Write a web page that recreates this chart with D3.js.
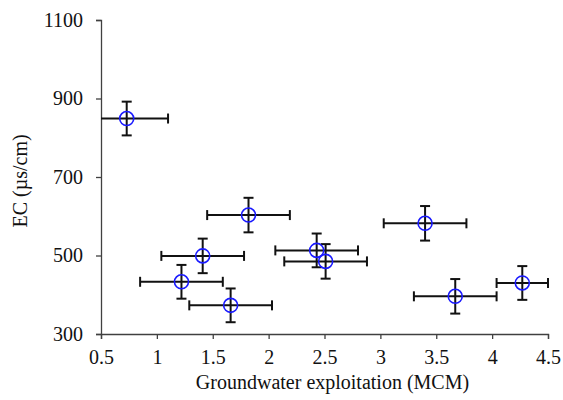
<!DOCTYPE html>
<meta charset="utf-8">
<style>
  body { margin: 0; background: #fff; }
  .axis text { font-family: "Liberation Serif", "Times New Roman", serif; font-size: 20px; fill: #111; }
  .axis path, .axis line { stroke: #404040; stroke-width: 1.3; }
  .label { font-family: "Liberation Serif", "Times New Roman", serif; font-size: 20px; fill: #111; }
</style>
<svg width="563" height="400"></svg>
<script src="https://d3js.org/d3.v7.min.js"></script>
<script>
// data
var exploitation = [0.73, 1.22, 1.41, 1.66, 1.82, 2.43, 2.51, 3.40, 3.67, 4.27];
var ec = [849, 433, 499, 373, 603, 513, 485, 582, 396, 430];
var exploitationErr = [0.37, 0.37, 0.37, 0.37, 0.37, 0.37, 0.37, 0.37, 0.37, 0.23];
var ecErr = [43, 43, 44, 43, 44, 43, 44, 44, 44, 43];
var xTicks = [0.5, 1, 1.5, 2, 2.5, 3, 3.5, 4, 4.5];
var yTicks = [300, 500, 700, 900, 1100];

var svg = d3.select("svg");
var margin = {left: 101, right: 15, top: 20, bottom: 66};
var width = 563, height = 400;

var x = d3.scaleLinear().domain([0.5, 4.5]).range([margin.left, width - margin.right]);
var y = d3.scaleLinear().domain([300, 1100]).range([height - margin.bottom, margin.top]);

// axes
svg.append("g")
    .attr("class", "axis")
    .attr("transform", "translate(0," + y(300) + ")")
    .call(d3.axisBottom(x).tickValues(xTicks).tickSizeOuter(0).tickSize(5).tickPadding(11)
      .tickFormat(d3.format("")));

svg.append("g")
    .attr("class", "axis")
    .attr("transform", "translate(" + x(0.5) + ",0)")
    .call(d3.axisLeft(y).tickValues(yTicks).tickSizeOuter(0).tickSize(5).tickPadding(13)
      .tickFormat(d3.format("d")));

svg.selectAll(".axis").attr("font-family", null).attr("font-size", null);

// error bars
var pts = exploitation.map(function (v, i) {
  return {x: v, y: ec[i], xe: exploitationErr[i], ye: ecErr[i]};
});
var cap = 5;
var bars = svg.append("g")
    .attr("stroke", "#111")
    .attr("stroke-width", 2)
    .attr("fill", "none");

pts.forEach(function (d) {
  var x0 = Math.max(x(d.x - d.xe), x(0.5)), x1 = x(d.x + d.xe);
  bars.append("line").attr("x1", x0).attr("x2", x1).attr("y1", y(d.y)).attr("y2", y(d.y));
  if (d.x - d.xe >= 0.5)
    bars.append("line").attr("x1", x0).attr("x2", x0).attr("y1", y(d.y) - cap).attr("y2", y(d.y) + cap);
  bars.append("line").attr("x1", x1).attr("x2", x1).attr("y1", y(d.y) - cap).attr("y2", y(d.y) + cap);
  var y0 = y(d.y - d.ye), y1 = y(d.y + d.ye);
  bars.append("line").attr("x1", x(d.x)).attr("x2", x(d.x)).attr("y1", y0).attr("y2", y1);
  bars.append("line").attr("x1", x(d.x) - cap).attr("x2", x(d.x) + cap).attr("y1", y0).attr("y2", y0);
  bars.append("line").attr("x1", x(d.x) - cap).attr("x2", x(d.x) + cap).attr("y1", y1).attr("y2", y1);
});

// markers
svg.append("g")
  .selectAll("circle")
  .data(pts)
  .enter().append("circle")
    .attr("cx", function (d) { return x(d.x); })
    .attr("cy", function (d) { return y(d.y); })
    .attr("r", 7)
    .attr("fill", "none")
    .attr("stroke", "#1a1aff")
    .attr("stroke-width", 1.6);

// axis titles
svg.append("text")
    .attr("class", "label")
    .attr("x", x(2.5) + 8)
    .attr("y", 389)
    .attr("text-anchor", "middle")
    .text("Groundwater exploitation (MCM)");

svg.append("text")
    .attr("class", "label")
    .attr("transform", "translate(27," + y(690) + ") rotate(-90)")
    .attr("text-anchor", "middle")
    .text("EC (µs/cm)");
</script>
